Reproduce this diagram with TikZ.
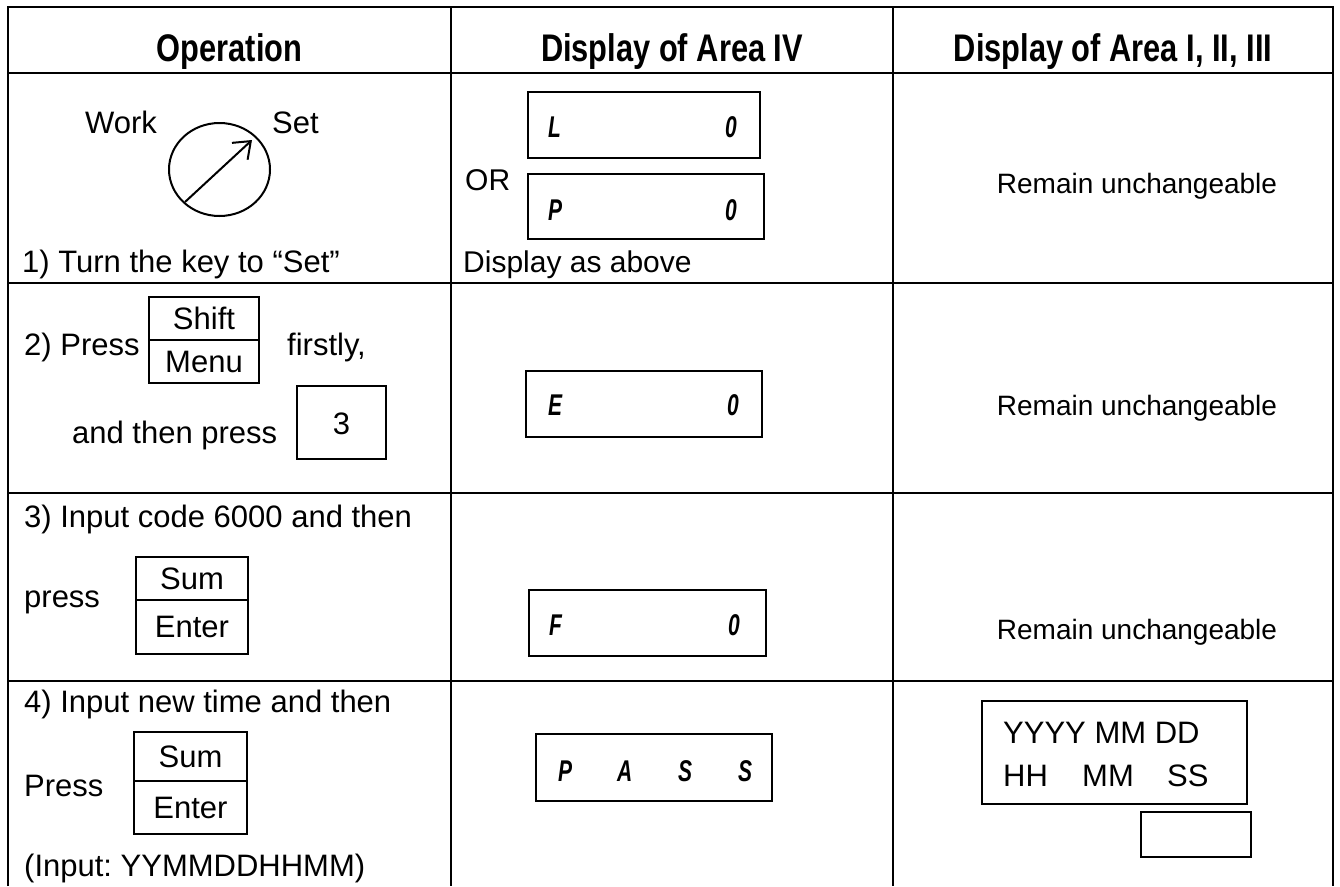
\documentclass[tikz,border=0pt]{standalone}
\usepackage{fontspec}
\setmainfont{Liberation Sans}
\newfontfamily\hdfont[FakeStretch=0.8]{Liberation Sans}
\newfontfamily\segfont[FakeStretch=0.7]{Liberation Sans}
\usetikzlibrary{arrows.meta}
\frenchspacing
\tikzset{
  tbl/.style={line width=2.7pt},
  kbox/.style={draw, line width=2pt},
  keynode/.style={draw, line width=2pt, inner sep=0pt, font=\fontsize{31}{36}\selectfont},
  txt/.style={anchor=base west, inner sep=0pt, font=\fontsize{31}{36}\selectfont},
  ctxt/.style={anchor=base, inner sep=0pt, font=\fontsize{31}{36}\selectfont},
  rtxt/.style={anchor=base, inner sep=0pt, font=\fontsize{28}{34}\selectfont},
  hd/.style={anchor=base, inner sep=0pt, font=\hdfont\bfseries\fontsize{38.5}{40}\selectfont},
  seg/.style={anchor=base west, inner sep=0pt, font=\segfont\bfseries\itshape\fontsize{30}{30}\selectfont}
}
\begin{document}
\begin{tikzpicture}[x=1pt,y=-1pt]
\useasboundingbox[fill=white] (0,0) rectangle (1340,886);
% table grid
\draw[tbl] (8,886) -- (8,7) -- (1333,7) -- (1333,886);
\draw[tbl] (451,7) -- (451,886);
\draw[tbl] (893,7) -- (893,886);
\draw[tbl] (8,73) -- (1333,73);
\draw[tbl] (8,283) -- (1333,283);
\draw[tbl] (8,493) -- (1333,493);
\draw[tbl] (8,681) -- (1333,681);
% header
\node[hd] (h1) at (229.5,61) {Operation};
\node[hd] (h2) at (672,61) {Display of Area IV};
\node[hd] (h3) at (1113,61) {Display of Area I, II, III};
% row 1
\node[txt] (work) at (85,133) {Work};
\node[txt] (set) at (272,133) {Set};
\draw[line width=2pt] (219.5,169.5) ellipse [x radius=50.5, y radius=46.5];
\coordinate (kA) at (185,202);
\coordinate (kB) at (252,140);
\draw[line width=2pt, -{Straight Barb[length=15pt,width=23pt]}] (kA) -- (kB);
\node[txt] (op1) at (22,272) {1) Turn the key to “Set”};
\draw[kbox] (528,92) rectangle (760,158);
\node[seg] (sL) at (548,137) {L};
\node[seg] (sL0) at (725,137) {0};
\draw[kbox] (528,174) rectangle (764,239);
\node[seg] (sP) at (548,220) {P};
\node[seg] (sP0) at (725,220) {0};
\node[txt, font=\fontsize{30}{36}\selectfont] (or) at (465,190) {OR};
\node[txt, font=\fontsize{30}{36}\selectfont] (dab) at (463,272) {Display as above};
\node[rtxt] (r1) at (1137,193) {Remain unchangeable};
% row 2
\node[txt] (op2) at (24,355) {2) Press};
\node[keynode, minimum width=110pt, minimum height=43pt] (shift) at (204,318.5) {Shift};
\node[keynode, minimum width=110pt, minimum height=43pt] (menu) at (204,361.5) {Menu};
\node[txt] (first) at (287,355) {firstly,};
\node[txt] (andthen) at (72,443) {and then press};
\node[keynode, minimum width=89pt, minimum height=73pt] (k3) at (341.5,422.5) {};
\node[ctxt] (k3t) at (341.5,434) {3};
\draw[kbox] (526,371) rectangle (762,437);
\node[seg] (sE) at (548,415) {E};
\node[seg] (sE0) at (727,415) {0};
\node[rtxt] (r2) at (1137,415) {Remain unchangeable};
% row 3
\node[txt] (op3) at (24,527) {3) Input code 6000 and then};
\node[txt] (press3) at (24,607) {press};
\node[keynode, minimum width=112pt, minimum height=43pt] (sum3) at (192,578.5) {Sum};
\node[keynode, minimum width=112pt, minimum height=54pt] (ent3) at (192,627) {Enter};
\draw[kbox] (529,590) rectangle (766,656);
\node[seg] (sF) at (549,635) {F};
\node[seg] (sF0) at (728,635) {0};
\node[rtxt] (r3) at (1137,639) {Remain unchangeable};
% row 4
\node[txt] (op4) at (24,712) {4) Input new time and then};
\node[txt] (press4) at (24,796) {Press};
\node[keynode, minimum width=113pt, minimum height=49pt] (sum4) at (190.5,756.5) {Sum};
\node[keynode, minimum width=113pt, minimum height=53pt] (ent4) at (190.5,807.5) {Enter};
\node[txt] (inp) at (24,876) {(Input: YYMMDDHHMM)};
\draw[kbox] (536,734) rectangle (772,801);
\node[seg] (p1) at (558,781) {P};
\node[seg] (p2) at (617,781) {A};
\node[seg] (p3) at (678,781) {S};
\node[seg] (p4) at (738,781) {S};
\draw[kbox] (982,701) rectangle (1247,804);
\node[txt] (ymd) at (1003,743) {YYYY MM DD};
\node[txt] (hh) at (1003,786) {HH};
\node[txt] (mm) at (1082,786) {MM};
\node[txt] (ss) at (1167,786) {SS};
\draw[kbox] (1141,812) rectangle (1251,857);
\end{tikzpicture}
\end{document}
